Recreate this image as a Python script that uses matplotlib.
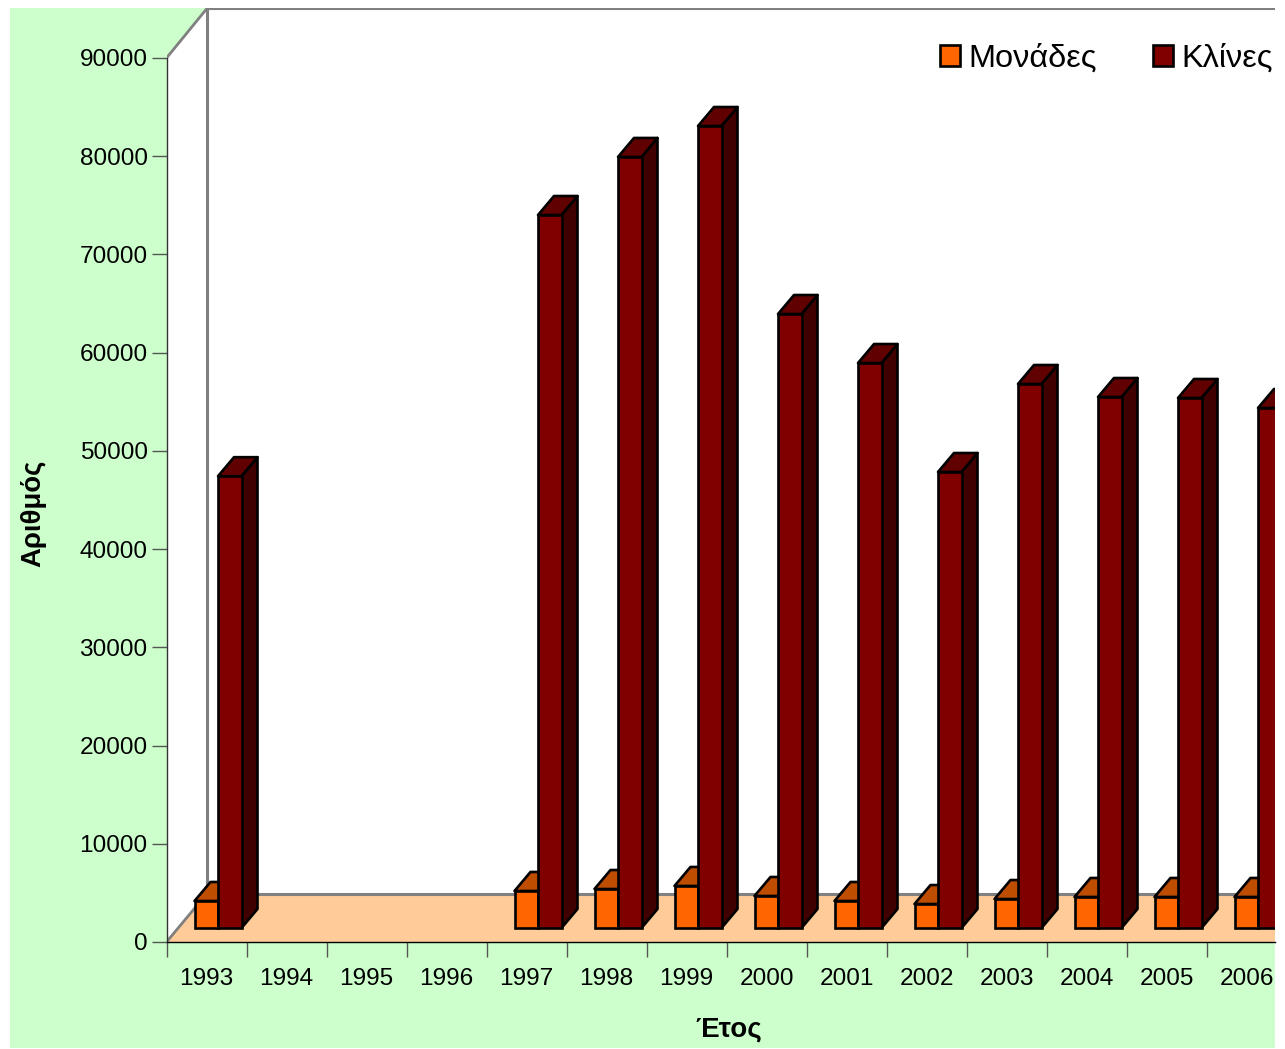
import numpy as np
import matplotlib.pyplot as plt
from matplotlib.patches import Rectangle, Patch

plt.rcParams['font.family'] = ['Liberation Sans', 'DejaVu Sans']

# chart values
years = [1993, 1994, 1995, 1996, 1997, 1998, 1999, 2000, 2001, 2002, 2003, 2004, 2005, 2006]
monades = [2750, np.nan, np.nan, np.nan, 3770, 3970, 4280, 3260, 2750, 2440, 2950, 3160, 3160, 3160]
klines = [46000, np.nan, np.nan, np.nan, 72590, 78500, 81650, 62510, 57520, 46425, 55385, 54060, 53960, 52940]
yticks = [0, 10000, 20000, 30000, 40000, 50000, 60000, 70000, 80000, 90000]

W, H = 1285, 1049
fig = plt.figure(figsize=(W/100, H/100), dpi=100)
fig.patches.append(Rectangle((10/W, 1-1048/H), 1265/W, 1040/H, transform=fig.transFigure,
                             facecolor='#CCFFCC', edgecolor='none', zorder=-1))

# plot area: left 166.5px, right 1275px, value 0 at 942px, 90000 at 58px
ax = fig.add_axes([166.5/W, 1-942/H, 1108.5/W, 934/H])
ax.patch.set_visible(False)
per_px = 90000/884
xmax = 1108.5/80
ax.set_xlim(0, xmax)
ax.set_ylim(0, 934*per_px)

# 3d box
wall_dx = 0.5
wall_dy = 48*per_px
top = 90000
top_dy = 49*per_px
ax.fill([0, wall_dx, wall_dx, 0], [0, wall_dy, top+top_dy, top], color='white', lw=0, zorder=1)
ax.fill([wall_dx, xmax, xmax, wall_dx], [wall_dy, wall_dy, top+top_dy, top+top_dy], color='white', lw=0, zorder=1)
ax.fill([0, wall_dx, xmax, xmax], [0, wall_dy, wall_dy, 0], color='#FFCC99', lw=0, zorder=1)
ax.plot([0, wall_dx], [0, wall_dy], color='#808080', lw=2, zorder=2)
ax.plot([wall_dx, xmax], [wall_dy, wall_dy], color='#808080', lw=2.2, zorder=2)
ax.plot([wall_dx, wall_dx], [wall_dy, top+top_dy], color='#808080', lw=2.2, zorder=2)
ax.plot([0, wall_dx], [top, top+top_dy], color='#808080', lw=2, zorder=2)
ax.plot([wall_dx, xmax], [top+top_dy, top+top_dy], color='#808080', lw=1.5, zorder=2)

# bars
base = 14*per_px
depth_x = 16/80
depth_y = 19*per_px
bar_w = 23.5/80
lw = 1.9

def bar3d(xs, values, color, top_color, side_color, z):
    for x, v in zip(xs, values):
        if np.isnan(v):
            continue
        y1 = base + v
        ax.fill([x+bar_w, x+bar_w+depth_x, x+bar_w+depth_x, x+bar_w],
                [base, base+depth_y, y1+depth_y, y1],
                facecolor=side_color, edgecolor='black', lw=lw, zorder=z, joinstyle='round')
        ax.fill([x, x+depth_x, x+bar_w+depth_x, x+bar_w],
                [y1, y1+depth_y, y1+depth_y, y1],
                facecolor=top_color, edgecolor='black', lw=lw, zorder=z, joinstyle='round')
    ax.bar(xs, values, width=bar_w, bottom=base, align='edge', color=color,
           edgecolor='black', lw=lw, zorder=z+0.5)

pos = np.arange(len(years))
bar3d(pos+0.35, monades, '#FF6600', '#BF4D00', '#7F3300', 3)
bar3d(pos+0.35+bar_w, klines, '#800000', '#600000', '#400000', 4)

# axes
for s in ['top', 'right']:
    ax.spines[s].set_visible(False)
ax.spines['left'].set_bounds(0, 90000)
ax.spines['left'].set_color('#333333')
ax.spines['left'].set_linewidth(1)
ax.spines['bottom'].set_color('black')
ax.spines['bottom'].set_linewidth(1)
for s in ax.spines.values():
    s.set_zorder(6)

ax.set_yticks(yticks)
ax.tick_params(axis='y', length=11, width=1, color='#555555', pad=2.6, labelsize=17.6, labelcolor='black')
ax.set_xticks(pos)
ax.set_xticklabels([])
ax.set_xticks(pos+0.5, minor=True)
ax.set_xticklabels(years, minor=True)
ax.tick_params(axis='x', which='major', length=11, width=1, color='#555555')
ax.tick_params(axis='x', which='minor', length=0, pad=19, labelsize=17.6, labelcolor='black')

fig.text(728.5/W, 1-1030/H, 'Έτος', fontsize=20, fontweight='bold', ha='center', va='center')
fig.text(33/W, 1-513/H, 'Αριθμός', fontsize=19.8, fontweight='bold', rotation=90, ha='center', va='center')

handles = [Patch(facecolor='#FF6600', edgecolor='black', lw=1.9, label='Μονάδες'),
           Patch(facecolor='#800000', edgecolor='black', lw=1.9, label='Κλίνες')]
fig.legend(handles=handles, ncol=2, frameon=False, fontsize=23.4, handlelength=0.62, handleheight=0.62,
           handletextpad=0.25, columnspacing=1.72, borderpad=0, borderaxespad=0,
           loc='center right', bbox_to_anchor=(1272.5/W, 1-59/H))

fig.savefig('out.png', dpi=100)
plt.close()
